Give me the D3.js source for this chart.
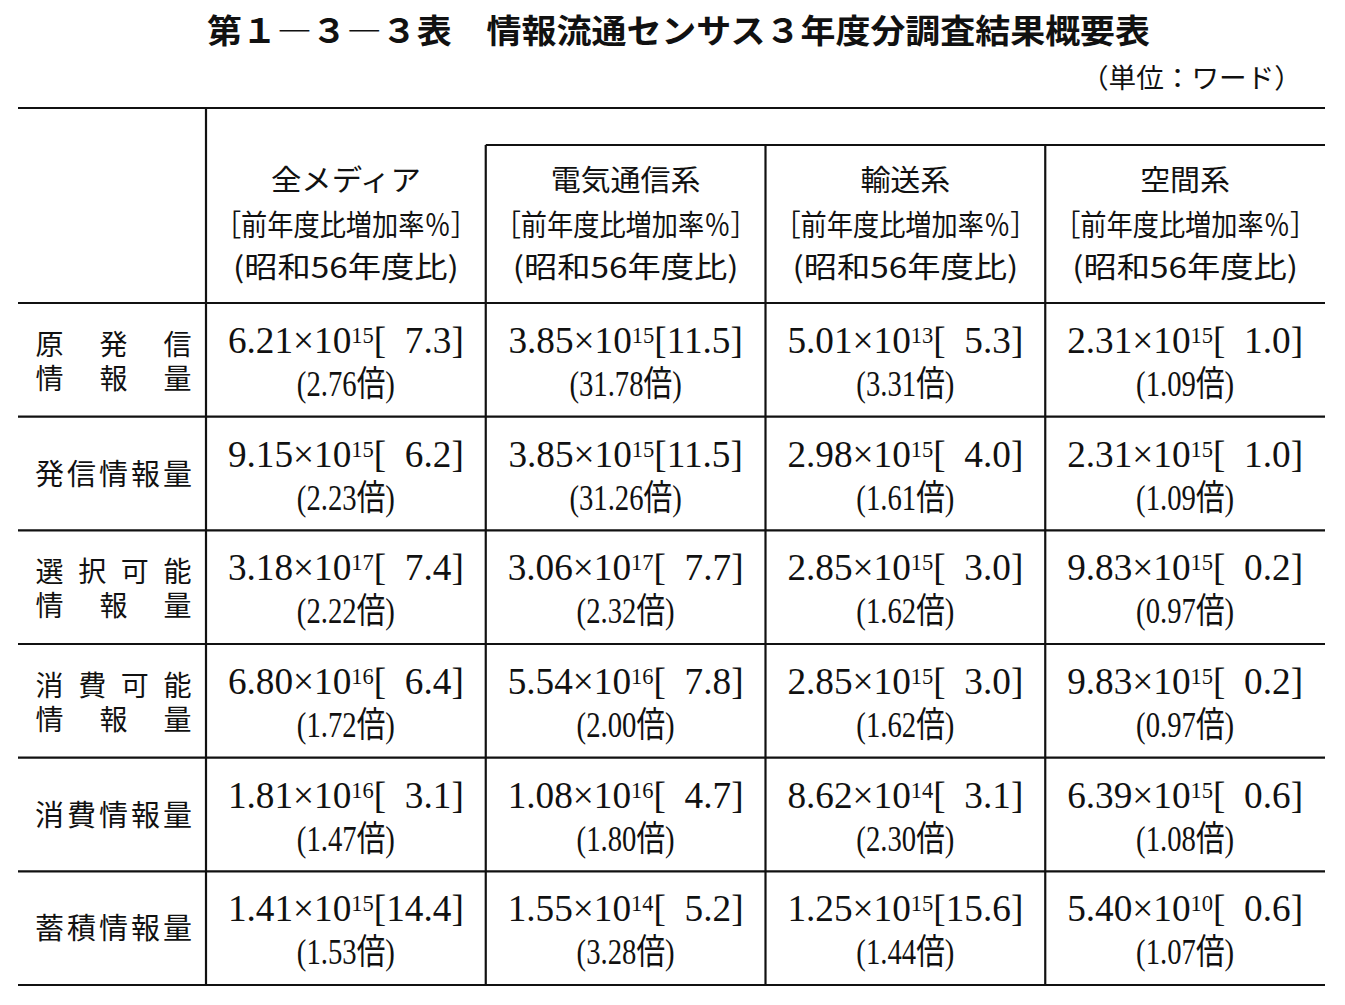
<!DOCTYPE html>
<html lang="ja">
<head>
<meta charset="utf-8">
<script src="https://cdn.jsdelivr.net/npm/d3@7"></script>
<style>
  body { margin: 0; background: #fff; }
  svg { display: block; }
  text { fill: #111; }
</style>
</head>
<body>
<div class="chart_container"></div>
<script>
//^ TABLE DATA //
const titleText = "第１—３—３表　情報流通センサス３年度分調査結果概要表";
const unitText = "（単位：ワード）";
const columns = ["全メディア", "電気通信系", "輸送系", "空間系"];
const headerSub = ["［前年度比増加率％］", "(昭和56年度比)"];
const rowLabels = [["原発信", "情報量"], ["発信情報量"], ["選択可能", "情報量"], ["消費可能", "情報量"], ["消費情報量"], ["蓄積情報量"]];

// volume = mantissa x 10^exponent
const mantissa = [
    [6.21, 3.85, 5.01, 2.31],
    [9.15, 3.85, 2.98, 2.31],
    [3.18, 3.06, 2.85, 9.83],
    [6.80, 5.54, 2.85, 9.83],
    [1.81, 1.08, 8.62, 6.39],
    [1.41, 1.55, 1.25, 5.40]
];
const exponent = [
    [15, 15, 13, 15],
    [15, 15, 15, 15],
    [17, 17, 15, 15],
    [16, 16, 15, 15],
    [16, 16, 14, 15],
    [15, 14, 15, 10]
];
// [前年度比増加率%]
const growthRate = [
    [7.3, 11.5, 5.3, 1.0],
    [6.2, 11.5, 4.0, 1.0],
    [7.4, 7.7, 3.0, 0.2],
    [6.4, 7.8, 3.0, 0.2],
    [3.1, 4.7, 3.1, 0.6],
    [14.4, 5.2, 15.6, 0.6]
];
// (昭和56年度比)
const ratioS56 = [
    [2.76, 31.78, 3.31, 1.09],
    [2.23, 31.26, 1.61, 1.09],
    [2.22, 2.32, 1.62, 0.97],
    [1.72, 2.00, 1.62, 0.97],
    [1.47, 1.80, 2.30, 1.08],
    [1.53, 3.28, 1.44, 1.07]
];

//^ DIMENSIONS //
const width = 1345;
const height = 1005;
const leftEdge = 18;
const rightEdge = 1325;
const tableTop = 108;
const boxTop = 145;
const headerBottom = 303;
const tableBottom = 985;
const labelLeft = 35;
const labelRight = 192;

const serif = "'Liberation Serif', 'Noto Sans CJK JP', serif";
const sans = "'Noto Sans CJK JP', sans-serif";
// kanji still fall back to Noto Sans CJK, but the tighter line box keeps stacked labels apart
const labelFont = "'Liberation Sans', 'Noto Sans CJK JP', sans-serif";

const svg = d3.select(".chart_container")
    .append("svg")
    .attr("width", width)
    .attr("height", height);

//^ SCALES //
const x = d3.scaleBand().domain(columns).range([206, rightEdge]);
const y = d3.scaleBand().domain(d3.range(rowLabels.length)).range([headerBottom, tableBottom]);

//^ TITLE //
svg.append("text")
    .attr("x", 207).attr("y", 43)
    .attr("font-family", sans).attr("font-weight", 700).attr("font-size", 33)
    .attr("textLength", 943).attr("lengthAdjust", "spacingAndGlyphs")
    .text(titleText);

svg.append("text")
    .attr("x", 1081).attr("y", 88)
    .attr("font-family", sans).attr("font-size", 27)
    .attr("textLength", 221).attr("lengthAdjust", "spacingAndGlyphs")
    .text(unitText);

//^ GRID LINES //
const grid = svg.append("g").attr("stroke", "#111").attr("stroke-width", 2.2);
grid.append("line").attr("x1", leftEdge).attr("x2", rightEdge).attr("y1", tableTop).attr("y2", tableTop);
grid.append("line").attr("x1", x(columns[1])).attr("x2", rightEdge).attr("y1", boxTop).attr("y2", boxTop);
grid.append("line").attr("x1", x(columns[0])).attr("x2", x(columns[0])).attr("y1", tableTop).attr("y2", tableBottom);
grid.selectAll(".vline")
    .data(columns.slice(1))
    .enter().append("line")
    .attr("x1", (d) => x(d)).attr("x2", (d) => x(d))
    .attr("y1", boxTop).attr("y2", tableBottom);
grid.selectAll(".hline")
    .data(d3.range(rowLabels.length + 1))
    .enter().append("line")
    .attr("x1", leftEdge).attr("x2", rightEdge)
    .attr("y1", (i) => (i < rowLabels.length ? y(i) : tableBottom))
    .attr("y2", (i) => (i < rowLabels.length ? y(i) : tableBottom));

//^ COLUMN HEADERS //
const headerLines = [
    { get: (c) => c, y: 191, len: (c) => Math.min(153, c.length * 30) },
    { get: () => headerSub[0], y: 236, len: () => 262 },
    { get: () => headerSub[1], y: 278, len: () => 226 }
];
const head = svg.append("g").attr("font-family", sans).attr("font-size", 29);
columns.forEach((c) => {
    const cx = x(c) + x.bandwidth() / 2;
    headerLines.forEach((h) => {
        const w = h.len(c);
        head.append("text")
            .attr("x", cx - w / 2).attr("y", h.y)
            .attr("textLength", w).attr("lengthAdjust", "spacingAndGlyphs")
            .text(h.get(c));
    });
});

//^ ROW LABELS (characters justified across the label cell) //
const labels = svg.append("g").attr("font-family", labelFont);
const charW = 29;
rowLabels.forEach((lines, r) => {
    const mid = y(r) + y.bandwidth() / 2;
    const offsets = lines.length === 1 ? [11] : [-5, 29];
    lines.forEach((line, k) => {
        const chars = line.split("");
        const step = (labelRight - labelLeft - charW) / (chars.length - 1);
        labels.selectAll(null)
            .data(chars)
            .enter().append("text")
            .attr("text-anchor", "middle")
            .attr("font-size", lines.length === 1 ? 29 : 28)
            .attr("x", (d, i) => labelLeft + charW / 2 + i * step)
            .attr("y", mid + offsets[k])
            .text((d) => d);
    });
});

//^ CELLS //
const figSpace = "\u2007";
const fmtRate = (v) => (v < 10 ? figSpace : "") + v.toFixed(1);
const cells = svg.append("g").attr("font-family", serif);
mantissa.forEach((row, r) => {
    row.forEach((m, c) => {
        const cx = x(columns[c]) + x.bandwidth() / 2;
        const top = y(r);
        const t1 = cells.append("text")
            .attr("transform", `translate(${cx},${top + 50}) scale(0.98,1)`)
            .attr("text-anchor", "middle")
            .attr("font-size", 38);
        t1.append("tspan").text(m.toFixed(2) + "×10");
        t1.append("tspan").attr("font-size", 23).attr("dy", -10).text(exponent[r][c]);
        t1.append("tspan").attr("dy", 10).text("[" + fmtRate(growthRate[r][c]) + "]");

        cells.append("text")
            .attr("transform", `translate(${cx},${top + 93}) scale(0.82,1)`)
            .attr("text-anchor", "middle")
            .attr("font-size", 35)
            .text("(" + ratioS56[r][c].toFixed(2) + "倍)");
    });
});
</script>
</body>
</html>
